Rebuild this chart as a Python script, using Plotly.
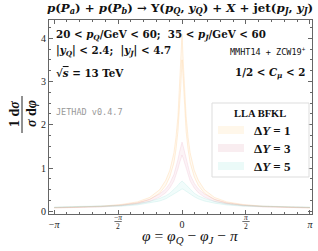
import plotly.graph_objects as go
import math

# ---- data ----
phi = [-3.1416, -2.5, -2.0, -1.5, -1.1, -0.8, -0.55, -0.4, -0.3, -0.2, -0.15, -0.1, -0.06, -0.03, 0.0,
       0.03, 0.06, 0.1, 0.15, 0.2, 0.3, 0.4, 0.55, 0.8, 1.1, 1.5, 2.0, 2.5, 3.1416]

dy1_up = [0.09, 0.10, 0.12, 0.16, 0.22, 0.32, 0.50, 0.72, 0.95, 1.35, 1.70, 2.20, 2.85, 3.45, 4.10,
          3.45, 2.85, 2.20, 1.70, 1.35, 0.95, 0.72, 0.50, 0.32, 0.22, 0.16, 0.12, 0.10, 0.09]
dy1_lo = [0.08, 0.09, 0.11, 0.14, 0.19, 0.27, 0.42, 0.60, 0.80, 1.12, 1.42, 1.85, 2.35, 2.90, 3.50,
          2.90, 2.35, 1.85, 1.42, 1.12, 0.80, 0.60, 0.42, 0.27, 0.19, 0.14, 0.11, 0.09, 0.08]

dy3_up = [0.09, 0.10, 0.12, 0.15, 0.20, 0.28, 0.40, 0.52, 0.65, 0.85, 1.00, 1.20, 1.38, 1.50, 1.60,
          1.50, 1.38, 1.20, 1.00, 0.85, 0.65, 0.52, 0.40, 0.28, 0.20, 0.15, 0.12, 0.10, 0.09]
dy3_lo = [0.08, 0.09, 0.10, 0.13, 0.17, 0.23, 0.33, 0.43, 0.54, 0.70, 0.83, 0.98, 1.12, 1.22, 1.30,
          1.22, 1.12, 0.98, 0.83, 0.70, 0.54, 0.43, 0.33, 0.23, 0.17, 0.13, 0.10, 0.09, 0.08]

dy5_up = [0.10, 0.11, 0.12, 0.14, 0.18, 0.23, 0.30, 0.36, 0.42, 0.50, 0.55, 0.60, 0.65, 0.68, 0.70,
          0.68, 0.65, 0.60, 0.55, 0.50, 0.42, 0.36, 0.30, 0.23, 0.18, 0.14, 0.12, 0.11, 0.10]
dy5_lo = [0.09, 0.10, 0.11, 0.12, 0.15, 0.19, 0.24, 0.29, 0.34, 0.40, 0.43, 0.46, 0.49, 0.51, 0.52,
          0.51, 0.49, 0.46, 0.43, 0.40, 0.34, 0.29, 0.24, 0.19, 0.15, 0.12, 0.11, 0.10, 0.09]

series_names = ["ΔY = 1", "ΔY = 3", "ΔY = 5"]
x_tickvals = [-math.pi, -math.pi / 2, 0, math.pi / 2, math.pi]
x_ticktext = ["−<i>π</i>", "", "0", "", "<i>π</i>"]
x_fraclabels = ["−<i>π</i>", "<i>π</i>"]
x_fracvals = [-math.pi / 2, math.pi / 2]
y_tickvals = [0, 1, 2, 3, 4]

# ---- styling ----
W, H = 318, 251
L, R, T, B = 49, 6, 20, 37
pw, ph = W - L - R, H - T - B

def px(x):
    return (x - L) / pw

def py(y):
    return 1 - (y - T) / ph

fills = ["rgba(255,190,90,0.07)", "rgba(225,140,170,0.10)", "rgba(120,225,215,0.10)"]
lines = ["rgba(255,165,60,0.18)", "rgba(220,130,165,0.15)", "rgba(110,210,200,0.16)"]
swatch = ["#fff7ea", "#f9edf0", "#ebfaf8"]

serif = "Liberation Serif"
dserif = "DejaVu Serif"
mono = "DejaVu Sans Mono"
sp = "&nbsp;"

fig = go.Figure()
bands = [(dy1_lo, dy1_up), (dy3_lo, dy3_up), (dy5_lo, dy5_up)]
for i, (lo, up) in enumerate(bands):
    fig.add_trace(go.Scatter(x=phi, y=lo, mode="lines", line=dict(color=lines[i], width=1),
                             showlegend=False, hoverinfo="skip"))
    fig.add_trace(go.Scatter(x=phi, y=up, mode="lines", line=dict(color=lines[i], width=1),
                             fill="tonexty", fillcolor=fills[i], name=series_names[i],
                             showlegend=False, hoverinfo="skip"))

axis_common = dict(showgrid=False, zeroline=False, showline=True, linecolor="#666666", linewidth=1,
                   mirror="ticks", ticks="inside", ticklen=4, tickcolor="#666666",
                   tickfont=dict(family=serif, size=10, color="#222222"))

fig.update_xaxes(range=[-math.pi * 1.04, math.pi * 1.016], tickvals=x_tickvals, ticktext=x_ticktext,
                 ticklabelstandoff=1,
                 minor=dict(ticks="inside", ticklen=2, tickcolor="#666666", dtick=math.pi / 10,
                            tick0=0), **axis_common)
fig.update_yaxes(range=[-0.06, 4.42], tickvals=y_tickvals, tickprefix="<b>", ticksuffix="</b>",
                 minor=dict(ticks="inside", ticklen=2, tickcolor="#666666", dtick=0.25, tick0=0),
                 **axis_common)

ann = []
def text(x, y, s, size=10, family=serif, color="#111111", xanchor="left", angle=0):
    ann.append(dict(x=px(x), y=py(y), xref="paper", yref="paper", text=s, showarrow=False,
                    xanchor=xanchor, yanchor="middle", textangle=angle,
                    font=dict(family=family, size=size, color=color)))

shapes = []

# fraction tick labels for ±π/2
for v, lab in zip(x_fracvals, x_fraclabels):
    ann.append(dict(x=v, y=py(217), xref="x", yref="paper", text=lab, showarrow=False,
                    xanchor="center", yanchor="middle", font=dict(family=serif, size=7.5, color="#222222")))
    ann.append(dict(x=v, y=py(226), xref="x", yref="paper", text="2", showarrow=False,
                    xanchor="center", yanchor="middle", font=dict(family=serif, size=7.5, color="#222222")))
    shapes.append(dict(type="line", xref="x", yref="paper", x0=v - 0.09, x1=v + 0.09,
                       y0=py(221.5), y1=py(221.5), line=dict(color="#333333", width=0.7)))

Q = "<i>Q</i>"
lt = sp + "<" + sp
text(180, 9, "<b><i>p</i>(<i>P<sub>a</sub></i>)" + sp + "+" + sp + "<i>p</i>(<i>P<sub>b</sub></i>)" + sp + "→" + sp +
     "Υ(<i>p</i><sub>" + Q + "</sub>," + sp + "<i>y</i><sub>" + Q + "</sub>)" + sp + "+" + sp + "<i>X</i>" + sp + "+" + sp +
     "jet(<i>p<sub>J</sub></i>," + sp + "<i>y<sub>J</sub></i>)</b>",
     size=11.8, family=dserif, xanchor="center")
text(54, 35, "<b>20" + lt + "<i>p</i><sub>" + Q + "</sub>/GeV" + lt + "60;" + sp + sp + "35" + lt +
     "<i>p<sub>J</sub></i>/GeV" + lt + "60</b>", size=10.3, family=dserif)
text(54, 51, "<b>|<i>y</i><sub>" + Q + "</sub>|" + lt + "2.4;" + sp + sp + "|<i>y<sub>J</sub></i>|" + lt + "4.7</b>",
     size=10.3, family=dserif)
text(308, 51, "MMHT14 + ZCW19<sup>+</sup>", size=8.5, family=mono, xanchor="right")
text(54, 73, "<b>√<span style='text-decoration:overline'><i>s</i></span>" + sp + "=" + sp + "13 TeV</b>",
     size=10.3, family=dserif)
text(307, 73, "<b>1/2" + lt + "<i>C<sub>μ</sub></i>" + lt + "2</b>", size=10.3, family=dserif, xanchor="right")
text(54, 112, "JETHAD v0.4.7", size=8.5, family=mono, color="#999999")

# axis titles
text(190, 236, "<i>φ</i>" + sp + "=" + sp + "<i>φ</i><sub>" + Q + "</sub>" + sp + "−" + sp + "<i>φ<sub>J</sub></i>" +
     sp + "−" + sp + "<i>π</i>", size=15.5, xanchor="center")
text(14, 114, "<b>1" + sp + "d<i>σ</i></b>", size=14, xanchor="center", angle=-90)
text(31, 114, "<b><i>σ</i>" + sp + "d<i>φ</i></b>", size=14, xanchor="center", angle=-90)

shapes.append(dict(type="line", xref="paper", yref="paper", x0=px(22), x1=px(22), y0=py(96), y1=py(133),
                   line=dict(color="#222222", width=1)))

# legend (custom box)
shapes.append(dict(type="rect", xref="paper", yref="paper", x0=px(212), x1=px(309), y0=py(103), y1=py(177),
                   line=dict(color="#dddddd", width=1), fillcolor="rgba(255,255,255,0.85)", layer="above"))
text(260, 113, "<b>LLA BFKL</b>", size=10.5, xanchor="center")
ys = [130, 148, 166]
for i in range(3):
    shapes.append(dict(type="rect", xref="paper", yref="paper", x0=px(218), x1=px(244),
                       y0=py(ys[i] - 4), y1=py(ys[i] + 4), line=dict(width=0), fillcolor=swatch[i],
                       layer="above"))
    text(252, ys[i], "<b>Δ<i>Y</i>" + sp + "=" + sp + series_names[i].split("= ")[1] + "</b>", size=13)

fig.update_layout(width=W, height=H, margin=dict(l=L, r=R, t=T, b=B), plot_bgcolor="white",
                  paper_bgcolor="white", annotations=ann, shapes=shapes, showlegend=False)

fig.write_html("out.html", config={"displayModeBar": False},
               post_script="document.body.style.margin='0';document.body.style.overflow='hidden';")
